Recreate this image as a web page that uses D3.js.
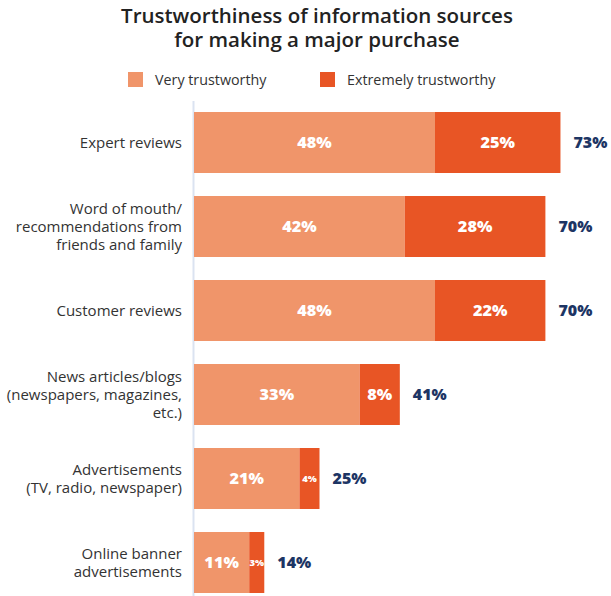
<!DOCTYPE html>
<html lang="en">
<head>
  <meta charset="UTF-8">
  <title>Trustworthiness of information sources</title>
  <style>
    body { margin: 0; background: #fff; font-family: "Open Sans", sans-serif; }
    .title { fill: #222; font-size: 20.5px; font-weight: 600; }
    .legend-text { fill: #333; font-size: 14.3px; }
    .cat-label { fill: #333; font-size: 15px; }
    .seg-label { fill: #fff; font-weight: 800; }
    .total-label { fill: #1d3564; font-size: 16px; font-weight: 800; }
  </style>
</head>
<body>
<svg width="611" height="596"></svg>
<script src="https://d3js.org/d3.v7.min.js"></script>
<script>
  const categories = [
    ["Expert reviews"],
    ["Word of mouth/", "recommendations from", "friends and family"],
    ["Customer reviews"],
    ["News articles/blogs", "(newspapers, magazines,", "etc.)"],
    ["Advertisements", "(TV, radio, newspaper)"],
    ["Online banner", "advertisements"]
  ];
  const veryTrust = [48, 42, 48, 33, 21, 11];
  const extremelyTrust = [25, 28, 22, 8, 4, 3];
  const totals = [73, 70, 70, 41, 25, 14];
  const seriesNames = ["Very trustworthy", "Extremely trustworthy"];
  const colors = ["#f0956a", "#e85525"];

  const svg = d3.select("svg");
  const left = 194;

  const rows = categories.map((c, i) => ({ key: c.join(" "), lines: c, very: veryTrust[i], extreme: extremelyTrust[i], total: totals[i] }));

  const x = d3.scaleLinear().domain([0, 100]).range([left, left + 502]);
  const y = d3.scaleBand().domain(rows.map(d => d.key)).range([100.5, 604.5]).paddingInner(0.274).paddingOuter(0.137);

  // title
  svg.append("text").attr("class", "title").attr("text-anchor", "middle")
    .attr("x", 317).attr("y", 23).text("Trustworthiness of information sources");
  svg.append("text").attr("class", "title").attr("text-anchor", "middle")
    .attr("x", 317).attr("y", 46.5).text("for making a major purchase");

  // legend
  const legendX = [128, 320];
  seriesNames.forEach((name, i) => {
    svg.append("rect").attr("x", legendX[i]).attr("y", 72).attr("width", 15).attr("height", 15).attr("fill", colors[i]);
    svg.append("text").attr("class", "legend-text").attr("x", legendX[i] + 27).attr("y", 84.5).text(name);
  });

  // axis line
  svg.append("line").attr("x1", left - 0.5).attr("x2", left - 0.5).attr("y1", 101).attr("y2", 596)
    .attr("stroke", "#dbe3f1").attr("stroke-width", 2);

  const stack = d3.stack().keys(["very", "extreme"])(rows);

  stack.forEach((layer, li) => {
    svg.append("g").selectAll("rect").data(layer).enter().append("rect")
      .attr("x", d => x(d[0]))
      .attr("y", d => y(d.data.key))
      .attr("width", d => x(d[1]) - x(d[0]))
      .attr("height", y.bandwidth())
      .attr("fill", colors[li]);

    svg.append("g").selectAll("text").data(layer).enter().append("text")
      .attr("class", "seg-label")
      .attr("x", d => (x(d[0]) + x(d[1])) / 2)
      .attr("y", d => y(d.data.key) + y.bandwidth() / 2)
      .attr("dy", "0.36em")
      .attr("text-anchor", "middle")
      .style("font-size", d => (d[1] - d[0]) < 6 ? "9.5px" : "16.3px")
      .text(d => (d[1] - d[0]) + "%");
  });

  // totals
  svg.append("g").selectAll("text").data(rows).enter().append("text")
    .attr("class", "total-label")
    .attr("x", d => x(d.total) + 13)
    .attr("y", d => y(d.key) + y.bandwidth() / 2)
    .attr("dy", "0.36em")
    .text(d => d.total + "%");

  // category labels
  const lineH = 18.3;
  rows.forEach(d => {
    const t = svg.append("text").attr("class", "cat-label").attr("text-anchor", "end");
    const cy = y(d.key) + y.bandwidth() / 2;
    const start = cy - (d.lines.length - 1) * lineH / 2;
    d.lines.forEach((line, i) => {
      t.append("tspan").attr("x", 182).attr("y", start + i * lineH).attr("dy", "0.36em").text(line);
    });
  });
</script>
</body>
</html>
